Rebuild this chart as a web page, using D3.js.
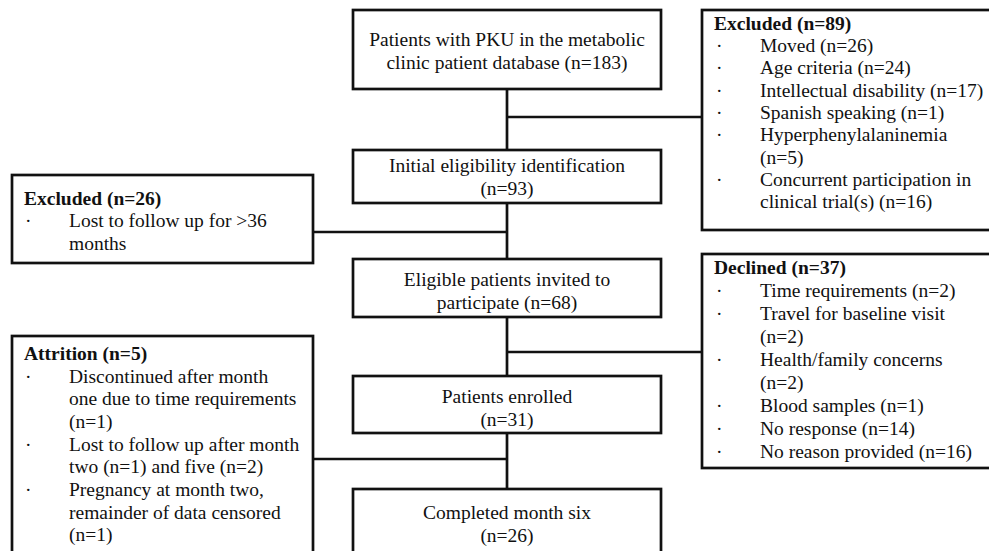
<!DOCTYPE html>
<html>
<head>
<meta charset="utf-8">
<script src="https://cdn.jsdelivr.net/npm/d3@7"></script>
<style>
  html, body { margin: 0; padding: 0; background: #fff; }
  svg { display: block; }
  text { font-family: "Liberation Serif", "Times New Roman", serif; fill: #111; }
</style>
</head>
<body>
<div id="chart"></div>
<script>
// ---------- DATA ----------
const mainSteps = [
  ["Patients with PKU in the metabolic", "clinic patient database (n=183)"],
  ["Initial eligibility identification", "(n=93)"],
  ["Eligible patients invited to", "participate (n=68)"],
  ["Patients enrolled", "(n=31)"],
  ["Completed month six", "(n=26)"]
];
const mainCounts = [183, 93, 68, 31, 26];

const excluded89Header = "Excluded (n=89)";
const excluded89Items = [
  ["Moved (n=26)"],
  ["Age criteria (n=24)"],
  ["Intellectual disability (n=17)"],
  ["Spanish speaking (n=1)"],
  ["Hyperphenylalaninemia", "(n=5)"],
  ["Concurrent participation in", "clinical trial(s) (n=16)"]
];

const excluded26Header = "Excluded (n=26)";
const excluded26Items = [
  ["Lost to follow up for >36", "months"]
];

const declinedHeader = "Declined (n=37)";
const declinedItems = [
  ["Time requirements (n=2)"],
  ["Travel for baseline visit", "(n=2)"],
  ["Health/family concerns", "(n=2)"],
  ["Blood samples (n=1)"],
  ["No response (n=14)"],
  ["No reason provided (n=16)"]
];

const attritionHeader = "Attrition (n=5)";
const attritionItems = [
  ["Discontinued after month", "one due to time requirements", "(n=1)"],
  ["Lost to follow up after month", "two (n=1) and five (n=2)"],
  ["Pregnancy at month two,", "remainder of data censored", "(n=1)"]
];

// ---------- LAYOUT (positions kept separate from data) ----------
const W = 989, H = 551;
const FONT = 19.5;
const STROKE = 2.7;
const mainX0 = 353, mainX1 = 661;
const mainCx = (mainX0 + mainX1) / 2;
const mainBoxes = [
  { y0: 10,  y1: 89,  lines: [39, 62] },
  { y0: 150, y1: 203, lines: [165, 188] },
  { y0: 259, y1: 317, lines: [279, 302] },
  { y0: 376, y1: 433, lines: [396, 419] },
  { y0: 489, y1: 558, lines: [512, 535] }
];
const sideBoxes = [
  { header: excluded89Header, items: excluded89Items, x0: 702, x1: 997, y0: 10,  y1: 230, hy: 23,  step: 22.3, hx: 714, bx: 716, tx: 760 },
  { header: excluded26Header, items: excluded26Items, x0: 12,  x1: 313, y0: 175, y1: 263, hy: 198, step: 22.5, hx: 24,  bx: 25,  tx: 69 },
  { header: declinedHeader,   items: declinedItems,   x0: 702, x1: 997, y0: 254, y1: 468, hy: 267, step: 23,   hx: 714, bx: 716, tx: 760 },
  { header: attritionHeader,  items: attritionItems,  x0: 12,  x1: 313, y0: 336, y1: 558, hy: 353, step: 22.7, hx: 24,  bx: 25,  tx: 69 }
];
const branches = [
  { y: 117, x0: mainCx, x1: 702 },
  { y: 232, x0: 313,    x1: mainCx },
  { y: 352, x0: mainCx, x1: 702 },
  { y: 459, x0: 313,    x1: mainCx }
];

// ---------- DRAW ----------
const svg = d3.select("#chart").append("svg")
  .attr("width", W).attr("height", H);

// connectors: vertical segments between consecutive main boxes
const vSegs = d3.pairs(mainBoxes).map(([a, b]) => ({ y0: a.y1, y1: b.y0 }));
svg.append("g").selectAll("line.v").data(vSegs).join("line")
  .attr("x1", mainCx).attr("x2", mainCx)
  .attr("y1", d => d.y0).attr("y2", d => d.y1)
  .attr("stroke", "#111").attr("stroke-width", STROKE);

svg.append("g").selectAll("line.h").data(branches).join("line")
  .attr("x1", d => d.x0).attr("x2", d => d.x1)
  .attr("y1", d => d.y).attr("y2", d => d.y)
  .attr("stroke", "#111").attr("stroke-width", STROKE);

// main boxes
const mg = svg.append("g").selectAll("g").data(mainSteps.map((lines, i) => ({ lines, count: mainCounts[i], box: mainBoxes[i] })))
  .join("g");
mg.append("rect")
  .attr("x", mainX0).attr("width", mainX1 - mainX0)
  .attr("y", d => d.box.y0).attr("height", d => d.box.y1 - d.box.y0)
  .attr("fill", "#fff").attr("stroke", "#111").attr("stroke-width", STROKE);
mg.each(function (d) {
  d3.select(this).selectAll("text").data(d.lines.map((t, j) => ({ t, y: d.box.lines[j] })))
    .join("text")
    .attr("x", mainCx).attr("y", e => e.y).attr("dy", "0.35em")
    .attr("text-anchor", "middle").attr("font-size", FONT)
    .text(e => e.t);
});

// side boxes
const sg = svg.append("g").selectAll("g").data(sideBoxes).join("g");
sg.append("rect")
  .attr("x", d => d.x0).attr("width", d => d.x1 - d.x0)
  .attr("y", d => d.y0).attr("height", d => d.y1 - d.y0)
  .attr("fill", "#fff").attr("stroke", "#111").attr("stroke-width", STROKE);
sg.each(function (d) {
  const g = d3.select(this);
  g.append("text")
    .attr("x", d.hx).attr("y", d.hy).attr("dy", "0.35em")
    .attr("font-size", FONT).attr("font-weight", "bold")
    .text(d.header);
  let row = 1;
  d.items.forEach(item => {
    g.append("text")
      .attr("x", d.bx).attr("y", d.hy + row * d.step).attr("dy", "0.35em")
      .attr("font-size", FONT).text("·");
    item.forEach(line => {
      g.append("text")
        .attr("x", d.tx).attr("y", d.hy + row * d.step).attr("dy", "0.35em")
        .attr("font-size", FONT).text(line);
      row++;
    });
  });
});
</script>
</body>
</html>
